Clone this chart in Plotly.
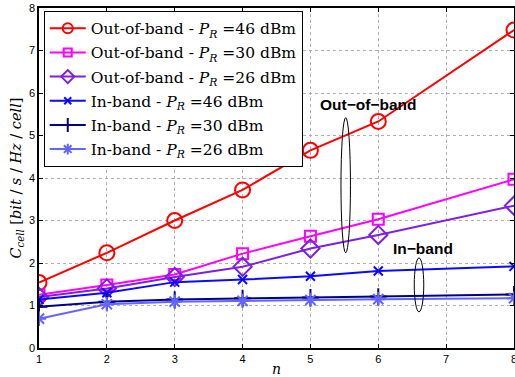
import plotly.graph_objects as go

n = [1, 2, 3, 4, 5, 6, 8]
oob_46 = [1.54, 2.24, 3.00, 3.72, 4.65, 5.33, 7.48]
oob_30 = [1.25, 1.48, 1.73, 2.22, 2.63, 3.03, 3.97]
oob_26 = [1.20, 1.40, 1.67, 1.91, 2.34, 2.66, 3.35]
inb_46 = [1.14, 1.30, 1.55, 1.61, 1.69, 1.81, 1.92]
inb_30 = [0.97, 1.09, 1.14, 1.17, 1.19, 1.21, 1.26]
inb_26 = [0.69, 1.03, 1.09, 1.11, 1.13, 1.15, 1.17]

names = [
    "Out-of-band - <i>P</i><sub><i>R</i></sub> =46 dBm",
    "Out-of-band - <i>P</i><sub><i>R</i></sub> =30 dBm",
    "Out-of-band - <i>P</i><sub><i>R</i></sub> =26 dBm",
    "In-band - <i>P</i><sub><i>R</i></sub> =46 dBm",
    "In-band - <i>P</i><sub><i>R</i></sub> =30 dBm",
    "In-band - <i>P</i><sub><i>R</i></sub> =26 dBm",
]
series = [oob_46, oob_30, oob_26, inb_46, inb_30, inb_26]
colors = ["#ff0000", "#ff00ff", "#7f1fdf", "#0a0aff", "#00008c", "#6464ff"]
symbols = ["circle-open", "square-open", "diamond-open", "x-thin-open", "cross-thin-open", "asterisk-open"]
sizes = [15, 11, 14, 9, 12, 12]
legend_sizes = [10, 8, 10, 7, 10, 9]

fig = go.Figure()
for i, (nm, ys, c, s, sz) in enumerate(zip(names, series, colors, symbols, sizes)):
    fig.add_trace(go.Scatter(
        x=n, y=ys, name=nm, mode="lines+markers", showlegend=False,
        line=dict(color=c, width=2),
        marker=dict(symbol=s, size=sz, color=c, line=dict(color=c, width=2)),
    ))
# legend entries (same style, smaller markers)
for i, (nm, c, s, lsz) in enumerate(zip(names, colors, symbols, legend_sizes)):
    fig.add_trace(go.Scatter(
        x=[None], y=[None], name=nm, mode="lines+markers", legendgroup=f"g{i}",
        line=dict(color=c, width=2),
        marker=dict(symbol=s, size=lsz, color=c, line=dict(color=c, width=2)),
    ))

# ellipses
fig.add_shape(type="circle", xref="x", yref="y", x0=5.45, x1=5.59, y0=2.24, y1=5.42,
              line=dict(color="black", width=1))
fig.add_shape(type="circle", xref="x", yref="y", x0=6.53, x1=6.67, y0=0.85, y1=2.12,
              line=dict(color="black", width=1))
fig.add_annotation(x=5.85, y=5.72, text="<b>Out\u2212of\u2212band</b>", showarrow=False,
                   font=dict(family="Liberation Sans, Arial", size=15.5, color="black"))
fig.add_annotation(x=6.66, y=2.35, text="<b>In\u2212band</b>", showarrow=False,
                   font=dict(family="Liberation Sans, Arial", size=15.5, color="black"))

axis_common = dict(
    showline=True, linecolor="black", linewidth=1.5, mirror="ticks",
    ticks="inside", ticklen=4, tickcolor="black", automargin=False,
    showgrid=True, gridcolor="#b0b0b0", griddash="dot", gridwidth=1,
    zeroline=False, tickfont=dict(family="Liberation Sans, Arial", size=11, color="black"),
    ticklabeloverflow="allow",
)
fig.update_xaxes(range=[1, 8], dtick=1, title=dict(text="<i>n</i>", standoff=0,
                 font=dict(family="DejaVu Serif", size=14, color="black")), **axis_common)
fig.update_yaxes(range=[0, 8], dtick=1, title=dict(
    text="<i>C</i><sub><i>cell</i></sub> [<i>bit</i> / <i>s</i> / <i>Hz</i> / <i>cell</i>]",
    standoff=4, font=dict(family="DejaVu Serif", size=14.5, color="black")), **axis_common)

fig.update_layout(
    width=515, height=377,
    margin=dict(l=39, r=1, t=8, b=29),
    paper_bgcolor="white", plot_bgcolor="white",
    showlegend=True,
    legend=dict(x=0.01, y=0.992, xanchor="left", yanchor="top",
                bgcolor="white", bordercolor="black", borderwidth=1,
                font=dict(family="DejaVu Serif", size=15.5, color="black"),
                tracegroupgap=1, itemwidth=36),
)

fig.write_html("out.html", config={"displayModeBar": False},
               post_script="document.body.style.margin='0';")
